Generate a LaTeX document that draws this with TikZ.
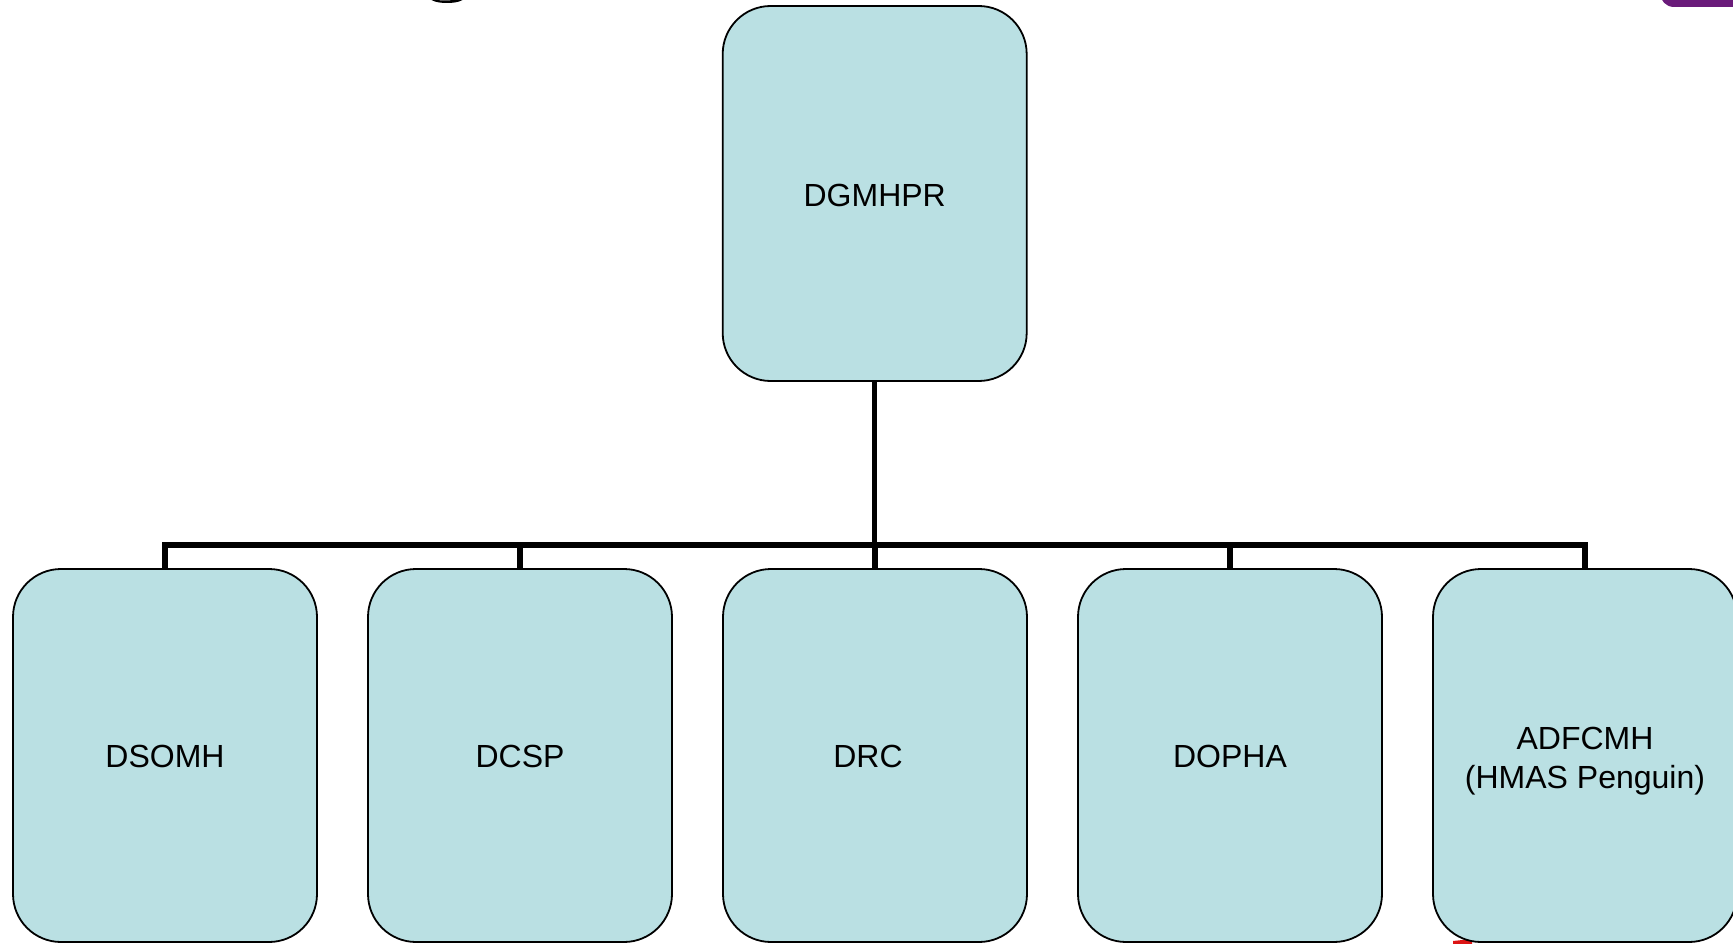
\documentclass[tikz,border=0pt]{standalone}
\usepackage{fontspec}
\setmainfont{Liberation Sans}
\definecolor{boxfill}{RGB}{186,224,227}
\definecolor{slidepurple}{RGB}{106,27,122}
\definecolor{slidered}{RGB}{220,20,20}
\begin{document}
\begin{tikzpicture}[x=1pt,y=-1pt,
  orgbox/.style={draw=black, line width=1.8pt, fill=boxfill, rounded corners=48pt,
    minimum width=304pt, inner sep=0pt},
  lbl/.style={inner sep=0pt, align=center, font=\fontsize{32}{39}\selectfont},
  conn/.style={draw=black, line width=5.3pt, line join=miter}]
\useasboundingbox (0,0) rectangle (1733,944);
% edge fragments of other slide elements
\fill[slidepurple, rounded corners=14pt] (1660,-40) rectangle (1800,7);
\fill[black] (430,-2) arc[start angle=180, end angle=360, x radius=17pt, y radius=5pt] -- (458,-2) arc[start angle=360, end angle=180, x radius=13pt, y radius=2.5pt] -- cycle;
\fill[slidered] (1453,941) -- (1472,939) -- (1472,950) -- (1453,950) -- cycle;
% boxes
\node[orgbox, minimum height=375pt] (top) at (874.7,193.5) {};
\node[orgbox, minimum height=373pt] (b1) at (165,755.5) {};
\node[orgbox, minimum height=373pt] (b2) at (520,755.5) {};
\node[orgbox, minimum height=373pt] (b3) at (875,755.5) {};
\node[orgbox, minimum height=373pt] (b4) at (1230,755.5) {};
\node[orgbox, minimum height=373pt] (b5) at (1585,755.5) {};
% labels
\node[lbl] (ttop) at ([yshift=-2pt]top.center) {DGMHPR};
\node[lbl] (t1) at ([yshift=-1pt]b1.center) {DSOMH};
\node[lbl] (t2) at ([yshift=-1pt]b2.center) {DCSP};
\node[lbl] (t3) at ([xshift=-7pt,yshift=-1pt]b3.center) {DRC};
\node[lbl] (t4) at ([yshift=-1pt]b4.center) {DOPHA};
\node[lbl] (t5) at ([yshift=-5.5pt]b5.center) {ADFCMH\\(HMAS Penguin)};
% connectors
\coordinate (bar) at (875,545);
\draw[conn] (top.south) -- (top.south |- bar);
\draw[conn] (b1.north) -- (b1.north |- bar) -- (b5.north |- bar) -- (b5.north);
\draw[conn] (b2.north) -- (b2.north |- bar);
\draw[conn] (b3.north) -- (b3.north |- bar);
\draw[conn] (b4.north) -- (b4.north |- bar);
\end{tikzpicture}
\end{document}
